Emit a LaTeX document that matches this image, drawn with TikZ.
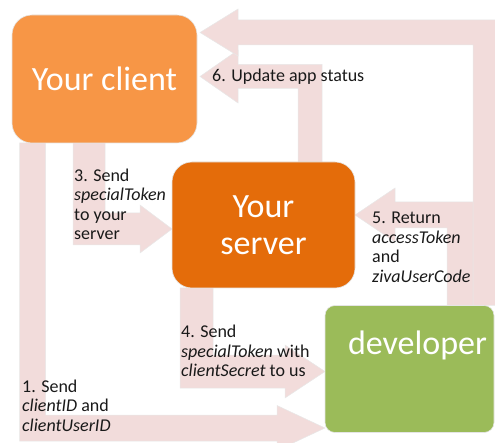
\documentclass[tikz,border=0pt]{standalone}
\usepackage{fontspec}
\setmainfont{Carlito}
\usetikzlibrary{calc,backgrounds}
\definecolor{clientorange}{RGB}{247,150,70}
\definecolor{serverorange}{RGB}{228,108,10}
\definecolor{devgreen}{RGB}{155,187,89}
\definecolor{flowpink}{RGB}{242,220,219}

% bent block arrow: start, tip, half shaft, half head, head length (signs give direction)
\newcommand{\bentflow}[5]{%
  \draw[flow] let \p1=(#1), \p2=(#2) in
    ({\x1-(#3)},\y1) -- ({\x1-(#3)},{\y2-(#3)}) -- ({\x2-(#5)},{\y2-(#3)})
    -- ({\x2-(#5)},{\y2-(#4)}) -- (\x2,\y2) -- ({\x2-(#5)},{\y2+(#4)})
    -- ({\x2-(#5)},{\y2+(#3)}) -- ({\x1+(#3)},{\y2+(#3)}) -- ({\x1+(#3)},\y1) -- cycle;}

\begin{document}
\begin{tikzpicture}[
  x=1pt, y=-1pt,
  box/.style={draw=black!10, line width=0.6pt, rounded corners=20pt,
              inner sep=0pt, outer sep=0pt, text=white, align=center,
              font=\fontsize{34}{37}\selectfont},
  clientbox/.style={box, fill=clientorange, minimum width=185pt, minimum height=128pt},
  serverbox/.style={box, fill=serverorange, minimum width=183pt, minimum height=126pt},
  devbox/.style={box, fill=devgreen, rounded corners=10pt, minimum width=169pt, minimum height=127pt},
  boxtext/.style={inner sep=0pt, text=white, font=\fontsize{34}{37}\selectfont},
  flow/.style={fill=flowpink, draw=black!9, line width=0.5pt},
  note/.style={font=\fontsize{18}{19.5}\selectfont, align=left, anchor=base west,
               inner sep=0pt, text=black!90},
]
\useasboundingbox (0,0) rectangle (495,443);

%% ---- BOXES ----
\node[clientbox] (client) at (104.5,79)  {Your client};
\node[serverbox] (server) at (263.5,225) {Your\\server};
\node[devbox]    (dev)    at (409.5,369) {};
\node[boxtext, anchor=base] (devtext) at (417.5,354) {developer};

%% ---- ARROW ENDS ----
\coordinate (a1s) at ($(client.south west)+(20.5,0)$);
\coordinate (a1t) at ($(dev.west)+(0,59)$);
\coordinate (a3s) at ($(client.south west)+(77,0)$);
\coordinate (a3t) at ($(server.west)+(0,4)$);
\coordinate (a4s) at ($(server.south west)+(24.5,0)$);
\coordinate (a4t) at ($(dev.west)+(0,2.5)$);
\coordinate (a5s) at ($(dev.north west)+(135,0)$);
\coordinate (a5t) at ($(server.east)+(0,-10)$);
\coordinate (a6s) at ($(server.north west)+(138,0)$);
\coordinate (a6t) at ($(client.east)+(3,-2.5)$);
\coordinate (a2s) at ($(dev.north west)+(160.5,0)$);
\coordinate (a2t) at ($(client.east)+(3,-46.5)$);

%% ---- ARROWS (behind the boxes) ----
\begin{scope}[on background layer]
\bentflow{a1s}{a1t}{13pt}{22.5pt}{48pt}
\bentflow{a3s}{a3t}{16pt}{24pt}{32pt}
\bentflow{a4s}{a4t}{16.5pt}{26.5pt}{40pt}
\bentflow{a5s}{a5t}{-13pt}{-27pt}{-40pt}
\bentflow{a6s}{a6t}{-12pt}{-26.5pt}{-38pt}
\bentflow{a2s}{a2t}{-12.5pt}{-23.5pt}{-38pt}
\end{scope}

%% ---- LABELS (placed at the baseline of their last line) ----
\node[note] (n6) at (212,82)  {6. Update app status};
\node[note] (n3) at (74,240)  {3. Send\\\textit{specialToken}\\to your\\server};
\node[note] (n5) at (372,282.5) {5. Return\\\textit{accessToken}\\and\\\textit{zivaUserCode}};
\node[note] (n4) at (181,376.5) {4. Send\\\textit{specialToken} with\\\textit{clientSecret} to us};
\node[note] (n1) at (22,431)  {1. Send\\\textit{clientID} and\\\textit{clientUserID}};

\end{tikzpicture}
\end{document}
